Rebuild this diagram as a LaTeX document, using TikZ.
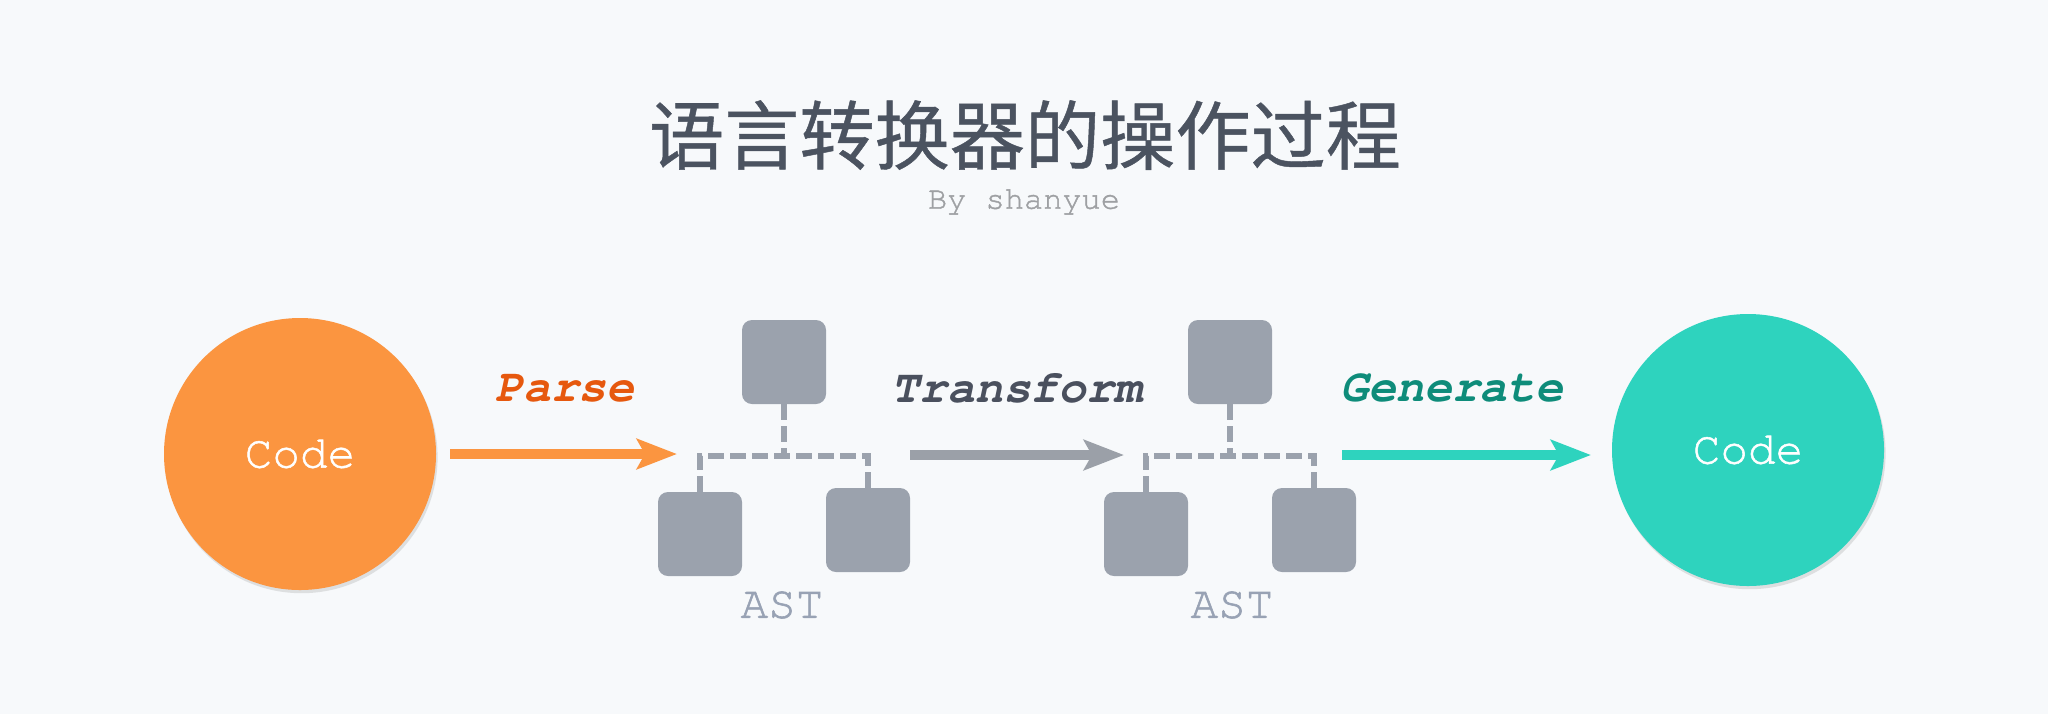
\documentclass[tikz,border=0pt]{standalone}
\usepackage{fontspec}
\setmonofont{texgyrecursor}[Extension=.otf, UprightFont=*-regular, BoldFont=*-bold, ItalicFont=*-italic, BoldItalicFont=*-bolditalic]
\newfontfamily\cursorheavy{texgyrecursor}[Extension=.otf, UprightFont=*-regular, FakeBold=1.2]
\newfontfamily\cjk{Noto Sans CJK SC}[FakeBold=0.6]
\usetikzlibrary{arrows.meta,shadows}
\definecolor{bgC}{HTML}{F7F9FB}
\definecolor{orangeC}{RGB}{251,149,64}
\definecolor{tealC}{RGB}{46,211,190}
\definecolor{parseC}{RGB}{230,88,14}
\definecolor{genC}{RGB}{14,140,122}
\definecolor{transC}{RGB}{74,80,94}
\definecolor{boxC}{RGB}{155,162,173}
\definecolor{titleC}{RGB}{75,83,96}
\definecolor{byC}{RGB}{158,160,163}
\definecolor{astC}{RGB}{152,162,180}
\definecolor{grayArr}{RGB}{155,160,168}
\tikzset{
  circ/.style={circle, minimum size=136pt, inner sep=0pt, text=white,
    font=\cursorheavy\fontsize{23pt}{23pt}\selectfont,
    drop shadow={shadow xshift=0.8pt, shadow yshift=-1.6pt, opacity=0.15, fill=black!70}},
  treebox/.style={rectangle, rounded corners=5pt, minimum size=42pt, inner sep=0pt, fill=boxC},
  treeline/.style={draw=boxC, line width=3.2pt, dash pattern=on 8pt off 3pt},
  steplabel/.style={inner sep=0pt, font=\ttfamily\bfseries\itshape\fontsize{23.3pt}{23.3pt}\selectfont},
  astlabel/.style={inner sep=0pt, text=astC, font=\cursorheavy\fontsize{23pt}{23pt}\selectfont},
  flowarrow/.style={line width=4.8pt, -{Stealth[length=20pt, width=15pt, inset=4pt]}},
}
\begin{document}
\begin{tikzpicture}[x=0.5pt, y=-0.5pt]
\fill[bgC] (0,0) rectangle (2048,714);
\useasboundingbox (0,0) rectangle (2048,714);

% title
\node[inner sep=0pt, text=titleC, font=\cjk\fontsize{37.6pt}{37.6pt}\selectfont] (title) at (1025,135) {语言转换器的操作过程};
\node[inner sep=0pt, text=byC, font=\cursorheavy\fontsize{16pt}{16pt}\selectfont] (by) at (1024,202) {By shanyue};

% circles
\node[circ, fill=orangeC] (c1) at (300,454) {Code};
\node[circ, fill=tealC] (c2) at (1748,450) {Code};

% AST 1
\node[treebox] (t1) at (784,362) {};
\node[treebox] (l1) at (700,534) {};
\node[treebox] (r1) at (868,530) {};
\coordinate (j1) at (784,456);
\draw[treeline] (t1.south) -- (j1);
\draw[treeline] (l1.north) |- (r1.north |- j1) -- (r1.north);
\node[astlabel] (ast1) at (782,605) {AST};

% AST 2
\node[treebox] (t2) at (1230,362) {};
\node[treebox] (l2) at (1146,534) {};
\node[treebox] (r2) at (1314,530) {};
\coordinate (j2) at (1230,456);
\draw[treeline] (t2.south) -- (j2);
\draw[treeline] (l2.north) |- (r2.north |- j2) -- (r2.north);
\node[astlabel] (ast2) at (1232,605) {AST};

% labels
\node[steplabel, text=parseC] (parse) at (565,388) {Parse};
\node[steplabel, text=transC] (transform) at (1017,388) {Transform};
\node[steplabel, text=genC] (generate) at (1452,388) {Generate};

% arrows
\coordinate (p1a) at ([xshift=7pt]c1.east);
\coordinate (p1b) at (677,454);
\coordinate (p2a) at (910,455);
\coordinate (p2b) at (1124,455);
\coordinate (p3a) at (1342,455);
\coordinate (p3b) at (1591,455);
\draw[flowarrow, draw=orangeC, fill=orangeC] (p1a) -- (p1b);
\draw[flowarrow, draw=grayArr, fill=grayArr] (p2a) -- (p2b);
\draw[flowarrow, draw=tealC, fill=tealC] (p3a) -- (p3b);
\end{tikzpicture}
\end{document}
